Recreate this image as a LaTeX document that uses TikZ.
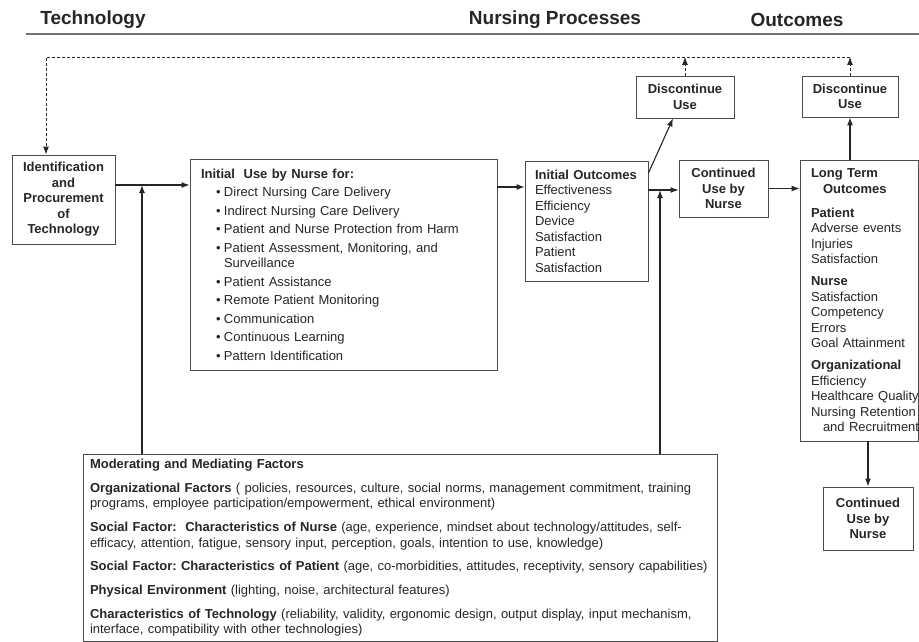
\documentclass[tikz,border=0pt]{standalone}
\usepackage{fontspec}
\setmainfont{Liberation Sans}
\usetikzlibrary{arrows.meta, positioning, calc}
\frenchspacing

\newcommand{\useitem}[1]{\makebox[23pt][l]{\hspace{15pt}\textbullet}#1}

\begin{document}
\begin{tikzpicture}[
    x=1pt, y=-1pt, >={Latex[length=8pt,width=6pt]},
    heading/.style={font=\fontsize{19}{22}\selectfont\bfseries, text=black!85},
    stepbox/.style={rectangle, draw=black!70, line width=0.9pt, fill=white, align=center, inner sep=0pt, font=\fontsize{13}{15.5}\selectfont\bfseries, text=black!85},
    listbox/.style={rectangle, draw=black!70, line width=0.9pt, fill=white, align=left, inner ysep=0pt, font=\fontsize{13}{15.5}\selectfont, text=black!85},
    flow/.style={->, line width=1.1pt, black!85},
    feedback/.style={->, line width=0.9pt, dash pattern=on 3pt off 2pt, black!85}
]
\useasboundingbox (0,0) rectangle (919,642);

% Column headings
\node[heading] (techhead) at (93,20) {Technology};
\node[heading] (nurshead) at (555,20) {Nursing Processes};
\node[heading] (outhead) at (797,20) {Outcomes};
\draw[black!55, line width=1.6pt] (26,34) -- (919,34);

% Technology
\node[stepbox, minimum width=103pt, minimum height=89pt] (ident) at (63.5,199.5) {Identification\\and\\Procurement\\of\\Technology};

% Nursing processes
\node[listbox, inner xsep=11pt, text width=285pt, minimum height=211pt] (inituse) at (343.5,264.5) {%
{\bfseries Initial\ \ Use by Nurse for:}\\[3pt]
\useitem{Direct Nursing Care Delivery}\\[3pt]
\useitem{Indirect Nursing Care Delivery}\\[3pt]
\useitem{Patient and Nurse Protection from Harm}\\[3pt]
\useitem{Patient Assessment, Monitoring, and}\\
\hspace*{23pt}Surveillance\\[3pt]
\useitem{Patient Assistance}\\[3pt]
\useitem{Remote Patient Monitoring}\\[3pt]
\useitem{Communication}\\[3pt]
\useitem{Continuous Learning}\\[3pt]
\useitem{Pattern Identification}};

\node[listbox, inner xsep=10pt, text width=103pt, minimum height=120pt] (outcomes) at (586.5,221) {%
{\bfseries Initial Outcomes}\\ Effectiveness\\ Efficiency\\ Device\\ Satisfaction\\ Patient\\ Satisfaction};

\node[stepbox, minimum width=89pt, minimum height=57pt] (cont1) at (723.5,188.5) {Continued\\Use by\\Nurse};
\node[stepbox, minimum width=98pt, minimum height=42pt] (disc1) at (685,97) {Discontinue\\Use};

% Outcomes
\node[listbox, inner xsep=11pt, text width=96pt, minimum height=281pt] (lt) at (859,300.5) {%
{\bfseries Long Term}\\
\hspace*{12pt}{\bfseries Outcomes}\\[8.5pt]
{\bfseries Patient}\\ Adverse events\\ Injuries\\ Satisfaction\\[6.5pt]
{\bfseries Nurse}\\ Satisfaction\\ Competency\\ Errors\\ Goal Attainment\\[6.5pt]
{\bfseries Organizational}\\ Efficiency\\ \mbox{Healthcare Quality}\\ \mbox{Nursing Retention}\\
\hspace*{12pt}\mbox{and Recruitment}};

\node[stepbox, minimum width=96pt, minimum height=41pt] (disc2) at (850,96.5) {Discontinue\\Use};
\node[stepbox, minimum width=90pt, minimum height=63pt] (cont2) at (868,518.5) {Continued\\Use by\\Nurse};

% Moderating and mediating factors
\node[listbox, inner xsep=7pt, text width=620pt, minimum height=187pt] (modfac) at (400,547.5) {%
{\bfseries Moderating and Mediating Factors}\\[8.5pt]
{\bfseries Organizational Factors} ( policies, resources, culture, social norms, management commitment, training\\
programs, employee participation/empowerment, ethical environment)\\[8.5pt]
{\bfseries Social Factor:\ \ Characteristics of Nurse} (age, experience, mindset about technology/attitudes, self-\\
efficacy, attention, fatigue, sensory input, perception, goals, intention to use, knowledge)\\[8pt]
{\bfseries Social Factor: Characteristics of Patient} (age, co-morbidities, attitudes, receptivity, sensory capabilities)\\[8.5pt]
{\bfseries Physical Environment} (lighting, noise, architectural features)\\[8pt]
{\bfseries Characteristics of Technology} (reliability, validity, ergonomic design, output display, input mechanism,\\
interface, compatibility with other technologies)};

% Flow
\coordinate (join1) at (142,185);
\coordinate (join2) at (660,190);
\draw[flow] (ident.east |- join1) -- (inituse.west |- join1);
\draw[flow] (join1 |- modfac.north) -- (join1);
\draw[flow] (inituse.east |- 0,187) -- (outcomes.west |- 0,187);
\draw[flow] (outcomes.east |- join2) -- (cont1.west |- join2);
\draw[flow] (join2 |- modfac.north) -- (join2);
\draw[flow] (outcomes.east |- 0,173) -- ([xshift=-12pt]disc1.south);
\draw[flow] (cont1.east) -- (cont1.east -| lt.west);
\draw[flow] (disc2.south |- lt.north) -- (disc2.south);
\draw[flow] (cont2.north |- lt.south) -- (cont2.north);

% Feedback loop
\coordinate (fbcorner) at (46,57);
\draw[feedback] (disc1.north) -- (disc1.north |- fbcorner);
\draw[feedback] (disc2.north) -- (disc2.north |- fbcorner);
\draw[feedback] (disc2.north |- fbcorner) -- (fbcorner) -- (fbcorner |- ident.north);

\end{tikzpicture}
\end{document}
